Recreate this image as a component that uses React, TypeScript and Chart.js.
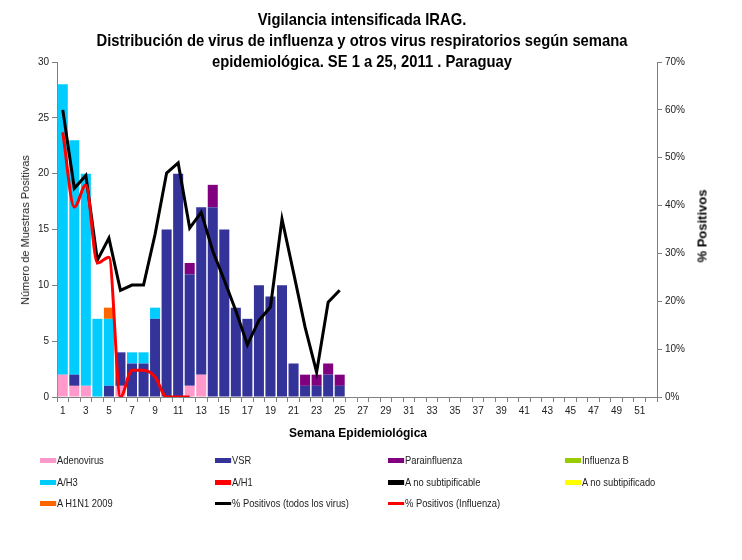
import { useEffect, useRef } from "react";
import { Chart, registerables } from "chart.js";

Chart.register(...registerables);

const weeks = [
  "1", "2", "3", "4", "5", "6", "7", "8", "9", "10", "11", "12", "13",
  "14", "15", "16", "17", "18", "19", "20", "21", "22", "23", "24", "25", "26",
  "27", "28", "29", "30", "31", "32", "33", "34", "35", "36", "37", "38", "39",
  "40", "41", "42", "43", "44", "45", "46", "47", "48", "49", "50", "51", "52",
];

// sample counts per week (SE 1 to 25)
const adenovirus = [2, 1, 1, 0, 0, 1, 0, 0, 0, 0, 0, 1, 2, 0, 0, 0, 0, 0, 0, 0, 0, 0, 0, 0, 0];
const vsr = [0, 1, 0, 0, 1, 3, 3, 3, 7, 15, 20, 10, 15, 17, 15, 8, 7, 10, 9, 10, 3, 1, 1, 2, 1];
const parainfluenza = [0, 0, 0, 0, 0, 0, 0, 0, 0, 0, 0, 1, 0, 2, 0, 0, 0, 0, 0, 0, 0, 1, 1, 1, 1];
const influenzaB: number[] = [];
const aH3 = [26, 21, 19, 7, 6, 0, 1, 1, 1, 0, 0, 0, 0, 0, 0, 0, 0, 0, 0, 0, 0, 0, 0, 0, 0];
const aH1: number[] = [];
const aNoSubtipificable: number[] = [];
const aNoSubtipificado: number[] = [];
const aH1N12009 = [0, 0, 0, 0, 1, 0, 0, 0, 0, 0, 0, 0, 0, 0, 0, 0, 0, 0, 0, 0, 0, 0, 0, 0, 0];

// % positive
const pctTodos = [60, 43.6, 46.3, 28.6, 33.2, 22.3, 23.4, 23.4, 34, 46.8, 48.9, 35.3, 38.6, 30.5, 24.4, 18, 10.9, 16, 18.8, 37.2, 26, 14.6, 5.2, 19.8, 22.3];
const pctInfluenza = [55.3, 39.7, 44.3, 28, 29.2, 0, 5.6, 5.6, 4.2, 0, 0, 0];

const yTicks = [0, 5, 10, 15, 20, 25, 30];
const y1Ticks = [0, 10, 20, 30, 40, 50, 60, 70];

const barSeries = [
  { label: "Adenovirus", data: adenovirus, color: "#FF99CC" },
  { label: "VSR", data: vsr, color: "#333399" },
  { label: "Parainfluenza", data: parainfluenza, color: "#800080" },
  { label: "Influenza  B", data: influenzaB, color: "#99CC00" },
  { label: "A/H3", data: aH3, color: "#00CCFF" },
  { label: "A/H1", data: aH1, color: "#FF0000" },
  { label: "A no subtipificable", data: aNoSubtipificable, color: "#000000" },
  { label: "A no subtipificado", data: aNoSubtipificado, color: "#FFFF00" },
  { label: "A H1N1 2009", data: aH1N12009, color: "#FF6600" },
];
const lineSeries = [
  { label: "% Positivos (todos los virus)", data: pctTodos, color: "#000000" },
  { label: "% Positivos (Influenza)", data: pctInfluenza, color: "#FF0000" },
];

const SANS = "'Liberation Sans', Arial, sans-serif";

export default function App() {
  const ref = useRef<HTMLCanvasElement>(null);

  useEffect(() => {
    if (!ref.current) return;
    const ctx = ref.current.getContext("2d");
    if (!ctx) return;

    const chart = new Chart(ctx, {
      type: "bar",
      data: {
        labels: weeks,
        datasets: [
          ...barSeries.map((s) => ({
            type: "bar" as const,
            label: s.label,
            data: s.data,
            backgroundColor: s.color,
            borderWidth: 0,
            stack: "v",
            yAxisID: "y",
            order: 2,
            categoryPercentage: 1,
            barPercentage: 0.87,
          })),
          ...lineSeries.map((s, i) => ({
            type: "line" as const,
            label: s.label,
            data: s.data,
            borderColor: s.color,
            backgroundColor: s.color,
            borderWidth: 3,
            pointRadius: 0,
            yAxisID: "y1",
            order: i === 0 ? 1 : 0,
            cubicInterpolationMode: i === 1 ? ("monotone" as const) : ("default" as const),
            tension: 0,
          })),
        ],
      },
      options: {
        responsive: false,
        animation: false,
        layout: { padding: { top: 62, left: 0, right: 0, bottom: 133 } },
        plugins: { legend: { display: false }, tooltip: { enabled: false } },
        scales: {
          x: {
            stacked: true,
            offset: true,
            grid: { offset: true, drawOnChartArea: false, tickLength: 5, color: "#808080" },
            border: { color: "#808080" },
            ticks: {
              autoSkip: false,
              maxRotation: 0,
              padding: 3,
              color: "#222",
              font: { family: SANS, size: 10 },
              callback: (_v, i) => (i % 2 === 0 ? weeks[i] : ""),
            },
            afterFit: (scale) => {
              scale.height = 30;
            },
          },
          y: {
            stacked: true,
            position: "left",
            min: 0,
            max: 30,
            afterBuildTicks: (scale) => {
              scale.ticks = yTicks.map((v) => ({ value: v }));
            },
            grid: { drawOnChartArea: false, tickLength: 5, color: "#808080" },
            border: { color: "#808080" },
            ticks: { color: "#222", padding: 3, font: { family: SANS, size: 10 } },
            afterFit: (scale) => {
              scale.width = 57;
            },
          },
          y1: {
            position: "right",
            min: 0,
            max: 70,
            afterBuildTicks: (scale) => {
              scale.ticks = y1Ticks.map((v) => ({ value: v }));
            },
            grid: { drawOnChartArea: false, tickLength: 5, color: "#808080" },
            border: { color: "#808080" },
            ticks: {
              color: "#222",
              padding: 3,
              font: { family: SANS, size: 10 },
              callback: (v) => v + "%",
            },
            afterFit: (scale) => {
              scale.width = 85;
            },
          },
        },
      },
    });

    return () => chart.destroy();
  }, []);

  const legendItems = [...barSeries.map((s) => ({ ...s, line: false })), ...lineSeries.map((s) => ({ ...s, line: true }))];
  const colX = [40, 215, 388, 565];
  const rowY = [460, 482, 503];

  return (
    <div style={{ position: "absolute", left: 0, top: 0, width: 742, height: 560, background: "#fff" }}>
      <canvas ref={ref} width={742} height={560} style={{ position: "absolute", left: 0, top: 0 }}></canvas>
      <div
        style={{
          position: "absolute",
          left: -9,
          top: 9,
          width: 742,
          textAlign: "center",
          fontFamily: SANS,
          fontWeight: "bold",
          fontSize: 17,
          lineHeight: "21px",
          color: "#000",
          transform: "scaleX(0.87)",
          transformOrigin: "371px 0",
        }}
      >
        <div>Vigilancia intensificada IRAG.</div>
        <div>Distribución de virus de influenza y otros virus respiratorios según semana</div>
        <div>epidemiológica. SE 1 a 25, 2011 . Paraguay</div>
      </div>
      <div
        style={{
          position: "absolute",
          left: 25,
          top: 230,
          transform: "translate(-50%, -50%) rotate(-90deg)",
          whiteSpace: "nowrap",
          fontFamily: SANS,
          fontSize: 11,
          color: "#222",
        }}
      >
        Número de Muestras Positivas
      </div>
      <div
        style={{
          position: "absolute",
          left: 702,
          top: 226,
          transform: "translate(-50%, -50%) rotate(-90deg)",
          whiteSpace: "nowrap",
          fontFamily: SANS,
          fontWeight: "bold",
          fontSize: 13,
          color: "#000",
        }}
      >
        % Positivos
      </div>
      <div
        style={{
          position: "absolute",
          left: 358,
          top: 433,
          transform: "translate(-50%, -50%)",
          whiteSpace: "nowrap",
          fontFamily: SANS,
          fontWeight: "bold",
          fontSize: 12,
          color: "#000",
        }}
      >
        Semana Epidemiológica
      </div>
      {legendItems.map((it, i) => (
        <div
          key={it.label}
          style={{
            position: "absolute",
            left: colX[i % 4],
            top: rowY[Math.floor(i / 4)],
            transform: "translateY(-50%) scaleX(0.85)",
            transformOrigin: "0 50%",
            display: "flex",
            alignItems: "center",
            whiteSpace: "nowrap",
            fontFamily: SANS,
            fontSize: 11,
            color: "#222",
          }}
        >
          <span
            style={{
              display: "inline-block",
              width: 19,
              height: it.line ? 3 : 5,
              background: it.color,
              marginRight: 1,
            }}
          ></span>
          {it.label}
        </div>
      ))}
    </div>
  );
}
